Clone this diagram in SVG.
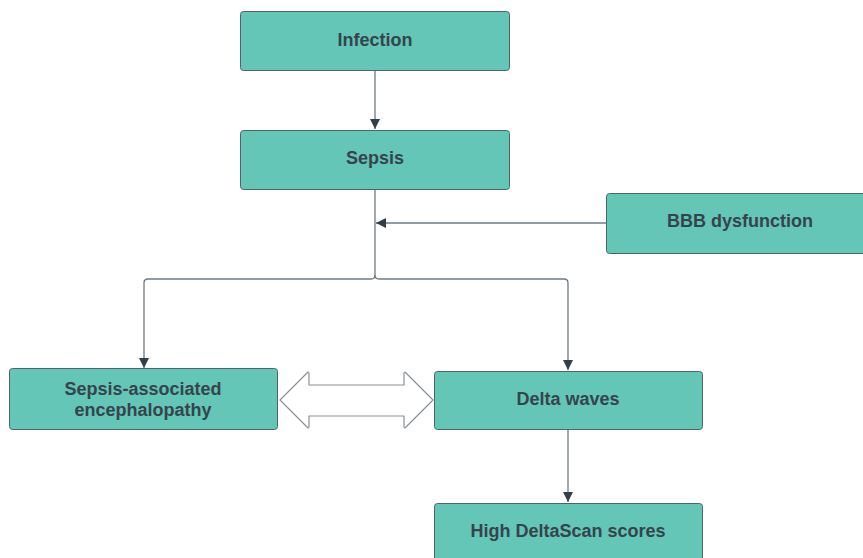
<svg xmlns="http://www.w3.org/2000/svg" width="863" height="558" viewBox="0 0 863 558">
<style>
.box{fill:#64c6b7;stroke:#4f6468;stroke-width:1}
.lbl{font-family:"Liberation Sans",Arial,sans-serif;font-weight:bold;font-size:18px;fill:#35444c;text-anchor:middle}
.ln{fill:none;stroke:#6f7b83;stroke-width:1.3}
</style>
<defs>
<marker id="ah" viewBox="0 0 10 10" refX="10" refY="5" markerWidth="10" markerHeight="10" markerUnits="userSpaceOnUse" orient="auto">
<path d="M0,0 L10,5 L0,10 z" fill="#333f48"/>
</marker>
</defs>
<rect width="863" height="558" fill="#ffffff"/>
<g id="connectors">
<path class="ln" d="M375,71 V129" marker-end="url(#ah)"/>
<path class="ln" d="M606,223 H376" marker-end="url(#ah)"/>
<path class="ln" d="M375,190 V275 Q375,279 371,279 H148 Q144,279 144,283 V368" marker-end="url(#ah)"/>
<path class="ln" d="M375,275 Q375,279 379,279 H564 Q568,279 568,283 V370" marker-end="url(#ah)"/>
<path class="ln" d="M568,430 V502" marker-end="url(#ah)"/>
<path d="M280,400 L307,373 Q309,371 309,374 V385 H404 V374 Q404,371 406,373 L433,400 L406,427 Q404,429 404,426 V416 H309 V426 Q309,429 307,427 Z" fill="#ffffff" stroke="#8a9196" stroke-width="1.2" stroke-linejoin="round"/>
</g>
<g id="infection"><rect class="box" x="240.5" y="11.5" width="269" height="59" rx="3"/><text class="lbl" x="375" y="46">Infection</text></g>
<g id="sepsis"><rect class="box" x="240.5" y="130.5" width="269" height="59" rx="3"/><text class="lbl" x="375" y="164">Sepsis</text></g>
<g id="bbb"><rect class="box" x="606.5" y="193.5" width="268" height="60" rx="3"/><text class="lbl" x="740" y="227">BBB dysfunction</text></g>
<g id="sae"><rect class="box" x="9.5" y="368.5" width="268" height="61" rx="3"/><text class="lbl" x="143" y="395">Sepsis-associated</text><text class="lbl" x="143" y="416">encephalopathy</text></g>
<g id="delta"><rect class="box" x="434.5" y="371.5" width="268" height="58" rx="3"/><text class="lbl" x="568" y="405">Delta waves</text></g>
<g id="high"><rect class="box" x="434.5" y="503.5" width="268" height="62" rx="3"/><text class="lbl" x="568" y="537">High DeltaScan scores</text></g>
</svg>
